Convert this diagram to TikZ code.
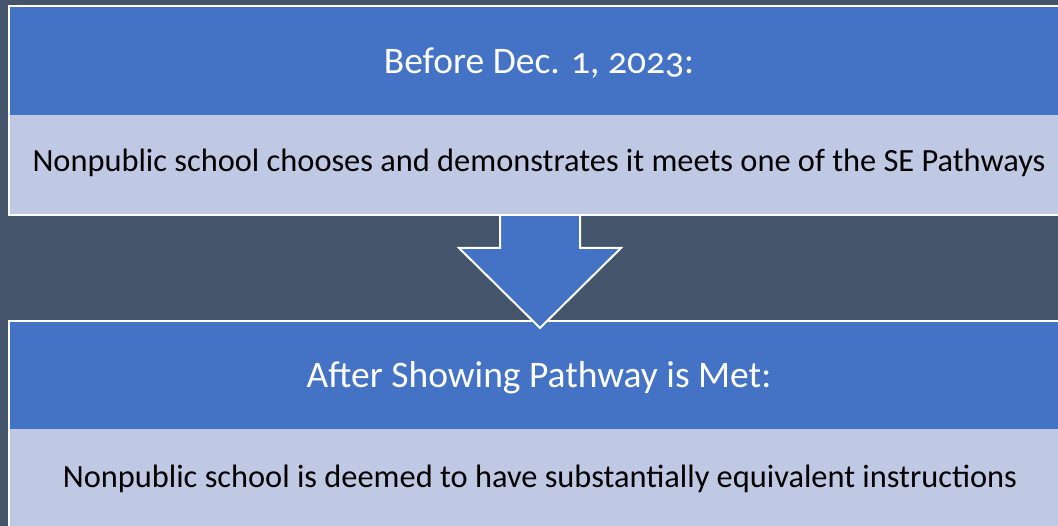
\documentclass[tikz,border=0pt]{standalone}
\usepackage{fontspec}
\setmainfont{Carlito}[Numbers=OldStyle]
\definecolor{bgc}{HTML}{44546A}
\definecolor{bluec}{HTML}{4472C4}
\definecolor{lightc}{HTML}{C0C9E4}
\tikzset{
  hdr/.style={font=\fontsize{37.5}{44}\selectfont, text=white, inner sep=0pt},
  bodytext/.style={font=\fontsize{32.4}{38}\selectfont, text=black, inner sep=0pt},
  frame/.style={draw=white, line width=2pt},
}
\begin{document}
\begin{tikzpicture}[x=1pt,y=-1pt]
\fill[bgc] (0,0) rectangle (1058,526);
\useasboundingbox (0,0) rectangle (1058,526);
% bottom box
\fill[lightc] (9,429) rectangle (1080,540);
\fill[bluec] (9,321) rectangle (1080,429);
\draw[frame] (9,321) rectangle (1080,540);
% arrow
\draw[frame, fill=bluec, line join=miter] (500,200) -- (500,248) -- (459,248) -- (540,328) -- (621,248) -- (580,248) -- (580,200) -- cycle;
% top box
\fill[lightc] (9,115) rectangle (1080,215);
\fill[bluec] (9,6) rectangle (1080,115);
\draw[frame] (9,6) rectangle (1080,215);
% texts
\node[hdr, anchor=base] (t1) at (539,74) {Before Dec. 1, 2023:};
\node[bodytext, anchor=base] (b1) at (539,172) {Nonpublic school chooses and demonstrates it meets one of the SE Pathways};
\node[hdr, anchor=base] (t2) at (539,388) {After Showing Pathway is Met:};
\node[bodytext, anchor=base] (b2) at (540,488) {Nonpublic school is deemed to have substantially equivalent instructions};
\end{tikzpicture}
\end{document}
